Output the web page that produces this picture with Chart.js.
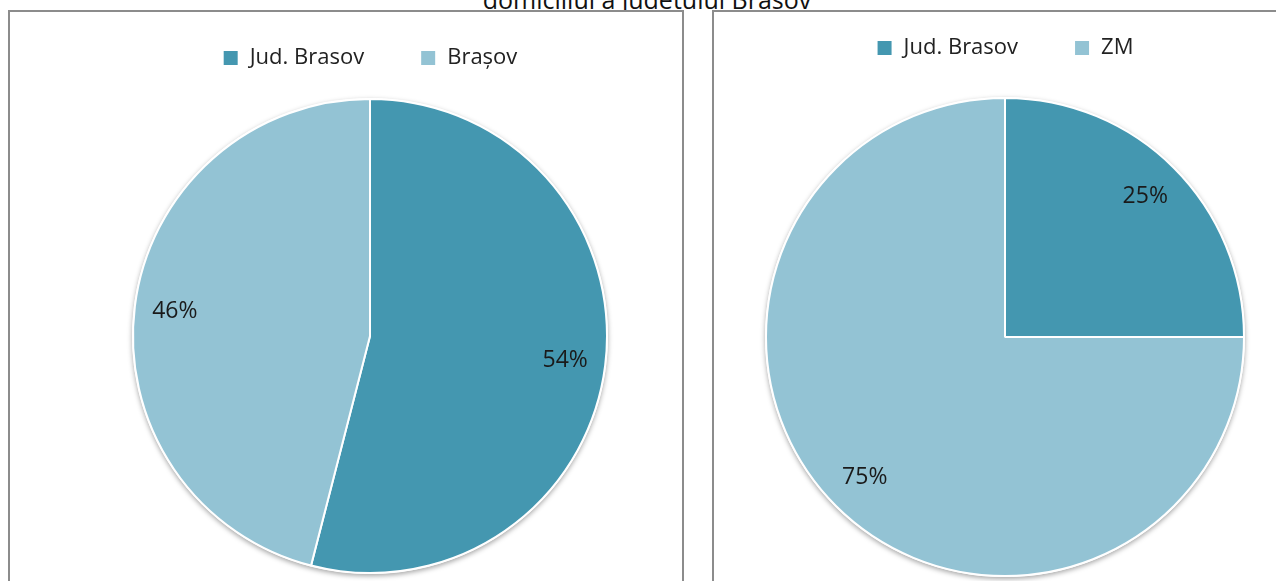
<!DOCTYPE html>
<html>
<head>
<meta charset="utf-8">
<script src="https://cdn.jsdelivr.net/npm/chart.js@4"></script>
<style>
  body { margin: 0; background: #fff; width: 1276px; height: 581px; overflow: hidden; position: relative; }
  .title { position: absolute; left: 0; width: 1294px; top: -18px; text-align: center;
           font-family: "Open Sans", sans-serif; font-size: 25px; color: #111; white-space: nowrap; }
  .box { position: absolute; top: 10px; border: 2px solid #8c8c8c; background: #fff; }
  #boxLeft { left: 8px; width: 672px; height: 620px; }
  #boxRight { left: 712px; width: 620px; height: 620px; }
  canvas { display: block; }
</style>
</head>
<body>
<div class="title">domiciliul a județului Brașov</div>
<div class="box" id="boxLeft"><canvas id="pieLeft" width="672" height="600"></canvas></div>
<div class="box" id="boxRight"><canvas id="pieRight" width="600" height="600"></canvas></div>
<script>
// data
const leftLabels = ['Jud. Brasov', 'Brașov'];
const leftValues = [54, 46];
const rightLabels = ['Jud. Brasov', 'ZM'];
const rightValues = [25, 75];
const colors = ['#4497b0', '#93c3d4'];

Chart.defaults.font.family = '"Open Sans", sans-serif';
Chart.defaults.color = '#222';

// soft shadow under the pie, like the office chart
const pieShadow = {
  id: 'pieShadow',
  beforeDatasetsDraw(chart) {
    const arc = chart.getDatasetMeta(0).data[0];
    if (!arc) return;
    const ctx = chart.ctx;
    ctx.save();
    ctx.shadowColor = 'rgba(0,0,0,0.35)';
    ctx.shadowBlur = 5;
    ctx.shadowOffsetY = 2;
    ctx.fillStyle = '#fff';
    ctx.beginPath();
    ctx.arc(arc.x, arc.y, arc.outerRadius + 1, 0, Math.PI * 2);
    ctx.fill();
    ctx.restore();
  }
};

// percentage labels inside the slices
const pctLabels = {
  id: 'pctLabels',
  afterDatasetsDraw(chart) {
    const ctx = chart.ctx;
    const values = chart.data.datasets[0].data;
    const total = values.reduce((a, b) => a + b, 0);
    ctx.save();
    ctx.font = '23px "Open Sans", sans-serif';
    ctx.fillStyle = '#1a1a1a';
    ctx.textAlign = 'center';
    ctx.textBaseline = 'middle';
    chart.getDatasetMeta(0).data.forEach(function (arc, i) {
      const mid = (arc.startAngle + arc.endAngle) / 2;
      const r = arc.outerRadius * 0.83;
      const txt = Math.round(values[i] / total * 100) + '%';
      ctx.fillText(txt, arc.x + Math.cos(mid) * r, arc.y + Math.sin(mid) * r);
    });
    ctx.restore();
  }
};

function pieChart(labels, values, ctx, radius, padding) {
  const chart = new Chart(ctx, {
    type: 'pie',
    data: {
      labels: labels,
      datasets: [{
        data: values,
        backgroundColor: colors,
        borderColor: '#fff',
        borderWidth: 2,
        radius: radius
      }]
    },
    options: {
      responsive: false,
      animation: false,
      events: [],
      layout: { padding: padding },
      plugins: {
        legend: {
          position: 'top',
          labels: {
            boxWidth: 16,
            boxHeight: 16,
            padding: 56,
            color: '#222',
            font: { size: 22 }
          }
        },
        tooltip: { enabled: false }
      }
    },
    plugins: [pieShadow, pctLabels]
  });
  return chart;
}

pieChart(leftLabels, leftValues, document.getElementById('pieLeft'), 237,
  { top: -21, left: 123, right: 75, bottom: 19 });
pieChart(rightLabels, rightValues, document.getElementById('pieRight'), 239,
  { top: -31, left: 52, right: 70, bottom: 7 });
</script>
</body>
</html>
